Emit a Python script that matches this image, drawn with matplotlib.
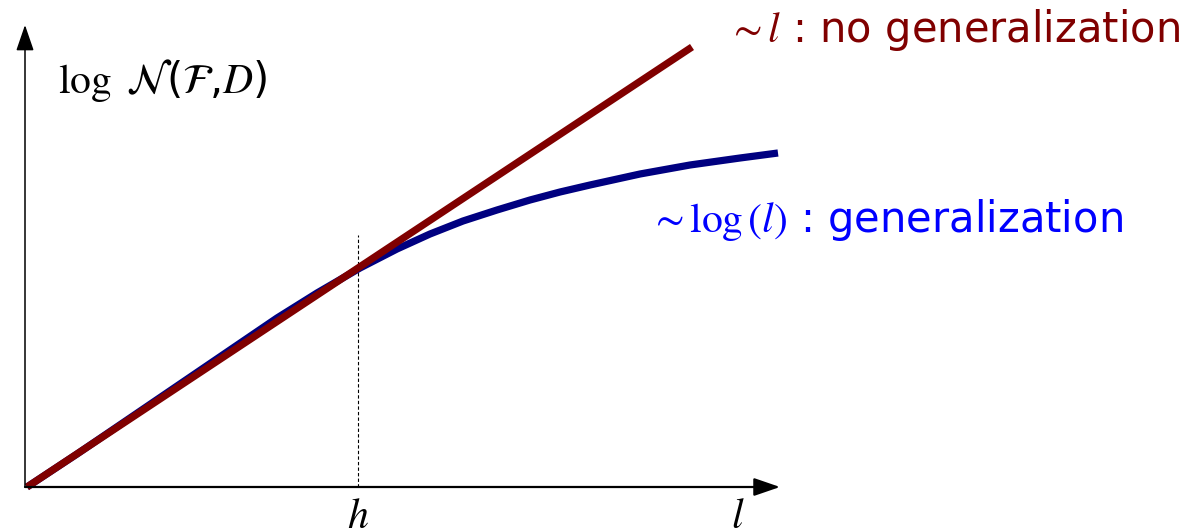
import matplotlib.pyplot as plt

plt.rcParams['mathtext.fontset'] = 'stix'
plt.rcParams['font.family'] = ['DejaVu Sans']

# curve samples (l, log N) in drawing units
red_l = [0, 665]
red_n = [0, 440]

blue_l = [0, 50, 100, 150, 200, 250, 290, 333, 370, 403, 436, 470,
          503, 533, 563, 613, 663, 713, 751]
blue_n = [0, 33, 67, 101, 135, 169, 194, 219, 238, 253, 266, 277,
          287, 295, 302, 313, 322, 329, 334]

h_pos = 331
dash_top = 252

RED = '#800000'
NAVY = '#000080'
BLUE = '#0000ff'


def main():
    fig = plt.figure(figsize=(11.89, 5.29), dpi=100)
    ax = fig.add_axes([0, 0, 1, 1])
    ax.set_xlim(-27, 1162)
    ax.set_ylim(-42, 487)
    ax.axis('off')

    # axes with arrow heads
    ax.annotate('', xy=(753, 0), xytext=(-2, 0),
                arrowprops=dict(arrowstyle='-|>,head_length=1.6,head_width=0.55',
                                color='black', lw=1.6, shrinkA=0, shrinkB=0))
    ax.annotate('', xy=(-2, 462), xytext=(-2, 0),
                arrowprops=dict(arrowstyle='-|>,head_length=1.6,head_width=0.55',
                                color='black', lw=1.1, shrinkA=0, shrinkB=0))

    ax.plot([h_pos, h_pos], [0, dash_top], color='black', lw=0.8,
            linestyle=(0, (3, 2)))

    ax.plot(blue_l, blue_n, color=NAVY, lw=5.2, solid_capstyle='butt',
            solid_joinstyle='round')
    ax.plot(red_l, red_n, color=RED, lw=5.2, solid_capstyle='butt')

    ax.text(31, 407, r'$\log\ \mathcal{N}$($\mathcal{F}$,$D$)', fontsize=30,
            va='center', ha='left')
    ax.text(h_pos, -8, r'$h$', fontsize=30, va='top', ha='center')
    ax.text(711, -8, r'$l$', fontsize=30, va='top', ha='center')

    ax.text(700, 457, r'$\sim l$ : no generalization', color=RED,
            fontsize=30, va='center', ha='left')
    ax.text(622, 267, r'$\sim \log\mathit{(l)}$ : generalization', color=BLUE,
            fontsize=30, va='center', ha='left')

    fig.savefig('out.png', dpi=100)


if __name__ == '__main__':
    main()
